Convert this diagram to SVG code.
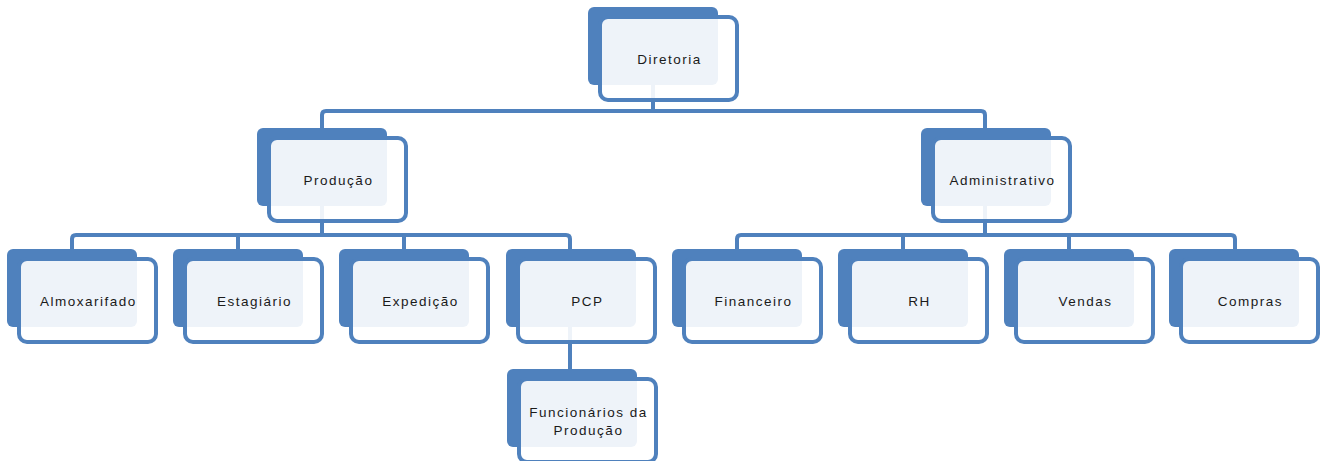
<svg xmlns="http://www.w3.org/2000/svg" width="1326" height="461" viewBox="0 0 1326 461">
<style>
.back{fill:#4F81BD}
.front{fill:#fff;fill-opacity:0.9;stroke:#4F81BD;stroke-width:4}
.conn{fill:none;stroke:#4F81BD;stroke-width:4;stroke-linejoin:round}
text{font-family:"Liberation Sans",Arial,sans-serif;font-size:13.5px;letter-spacing:1.5px;fill:#1a1a1a;text-anchor:middle}
</style>
<rect width="1326" height="461" fill="#fff"/>
<g id="connectors" class="conn">
<path d="M653,83 V111"/>
<path d="M322,128 V115 Q322,111 326,111 H981 Q985,111 985,115 V128"/>
<path d="M322,206 V235"/>
<path d="M72,249 V239 Q72,235 76,235 H566 Q570,235 570,239 V249"/>
<path d="M238,235 V249 M404,235 V249"/>
<path d="M985,206 V235"/>
<path d="M737,249 V239 Q737,235 741,235 H1231 Q1235,235 1235,239 V249"/>
<path d="M903,235 V249 M1069,235 V249"/>
<path d="M570,327 V369"/>
</g>
<g id="diretoria"><rect class="back" x="588" y="7" width="130" height="78" rx="6"/><rect class="front" x="600" y="17" width="137" height="83" rx="8"/><text x="669.5" y="63.5">Diretoria</text></g>
<g id="producao"><rect class="back" x="257" y="128" width="130" height="78" rx="6"/><rect class="front" x="269" y="138" width="137" height="83" rx="8"/><text x="338.5" y="184.5">Produção</text></g>
<g id="administrativo"><rect class="back" x="921" y="128" width="130" height="78" rx="6"/><rect class="front" x="933" y="138" width="137" height="83" rx="8"/><text x="1002.5" y="184.5">Administrativo</text></g>
<g id="almoxarifado"><rect class="back" x="7" y="249" width="130" height="78" rx="6"/><rect class="front" x="19" y="259" width="137" height="83" rx="8"/><text x="88.5" y="305.5">Almoxarifado</text></g>
<g id="estagiario"><rect class="back" x="173" y="249" width="130" height="78" rx="6"/><rect class="front" x="185" y="259" width="137" height="83" rx="8"/><text x="254.5" y="305.5">Estagiário</text></g>
<g id="expedicao"><rect class="back" x="339" y="249" width="130" height="78" rx="6"/><rect class="front" x="351" y="259" width="137" height="83" rx="8"/><text x="420.5" y="305.5">Expedição</text></g>
<g id="pcp"><rect class="back" x="506" y="249" width="130" height="78" rx="6"/><rect class="front" x="518" y="259" width="137" height="83" rx="8"/><text x="587.5" y="305.5">PCP</text></g>
<g id="financeiro"><rect class="back" x="672" y="249" width="130" height="78" rx="6"/><rect class="front" x="684" y="259" width="137" height="83" rx="8"/><text x="753.5" y="305.5">Financeiro</text></g>
<g id="rh"><rect class="back" x="838" y="249" width="130" height="78" rx="6"/><rect class="front" x="850" y="259" width="137" height="83" rx="8"/><text x="919.5" y="305.5">RH</text></g>
<g id="vendas"><rect class="back" x="1004" y="249" width="130" height="78" rx="6"/><rect class="front" x="1016" y="259" width="137" height="83" rx="8"/><text x="1085.5" y="305.5">Vendas</text></g>
<g id="compras"><rect class="back" x="1169" y="249" width="130" height="78" rx="6"/><rect class="front" x="1181" y="259" width="137" height="83" rx="8"/><text x="1250.5" y="305.5">Compras</text></g>
<g id="funcionarios"><rect class="back" x="507" y="369" width="130" height="78" rx="6"/><rect class="front" x="519" y="379" width="137" height="83" rx="8"/><text x="588.5" y="416.5">Funcionários da</text><text x="588.5" y="434.5">Produção</text></g>
</svg>
